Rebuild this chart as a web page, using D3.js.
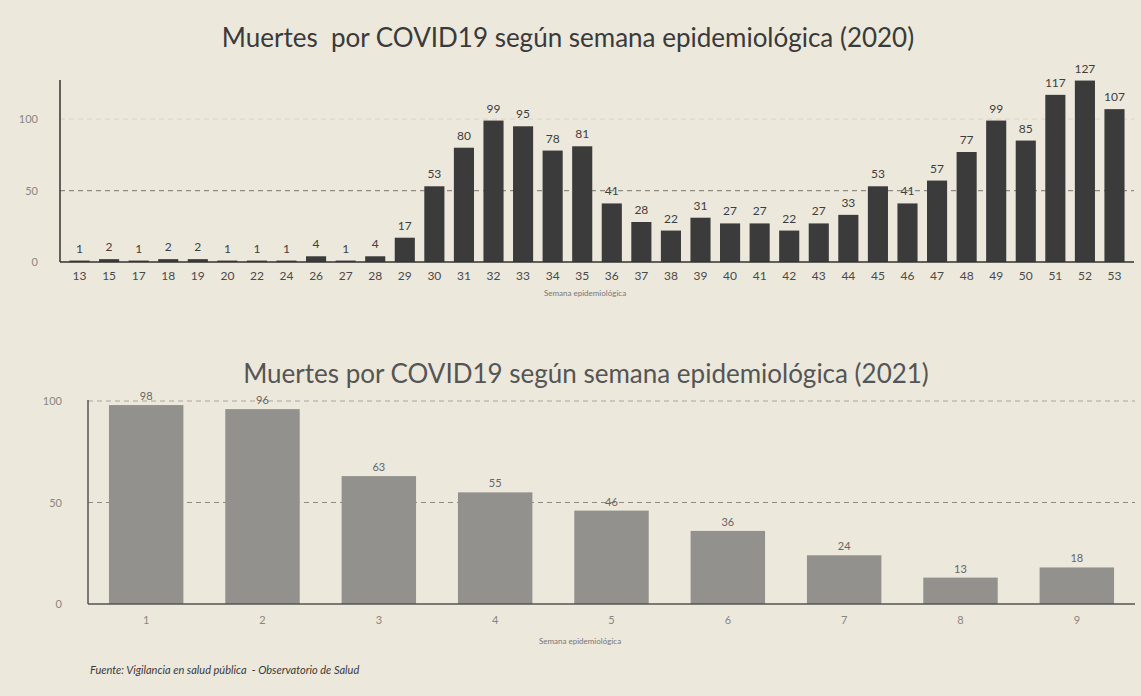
<!DOCTYPE html>
<html>
<head>
<meta charset="utf-8">
<script src="https://cdn.jsdelivr.net/npm/d3@7"></script>
<style>
  html, body { margin: 0; padding: 0; background: #ece8dc; }
  svg { display: block; }
</style>
</head>
<body>
<svg id="chart" width="1141" height="696"></svg>
<script>
// ---- Data ----
const weeks2020 = ["13","15","17","18","19","20","22","24","26","27","28","29","30","31","32","33","34","35","36","37","38","39","40","41","42","43","44","45","46","47","48","49","50","51","52","53"];
const deaths2020 = [1,2,1,2,2,1,1,1,4,1,4,17,53,80,99,95,78,81,41,28,22,31,27,27,22,27,33,53,41,57,77,99,85,117,127,107];
const weeks2021 = ["1","2","3","4","5","6","7","8","9"];
const deaths2021 = [98,96,63,55,46,36,24,13,18];
const yTicks = [0, 50, 100];
const title2020 = "Muertes  por COVID19 según semana epidemiológica (2020)";
const title2021 = "Muertes por COVID19 según semana epidemiológica (2021)";
const xTitle = "Semana epidemiológica";
const source = "Fuente: Vigilancia en salud pública  - Observatorio de Salud";

const svg = d3.select("#chart");
const W = 1141, H = 696;
const font = "Lato, 'Open Sans', sans-serif";

svg.append("rect").attr("width", W).attr("height", H).attr("fill", "#ece8dc");

function drawChart(cfg) {
  const g = svg.append("g");
  const x = d3.scaleBand().domain(cfg.cats).range([cfg.x0, cfg.x1])
    .paddingInner(cfg.pi).paddingOuter(cfg.po);
  const y = d3.scaleLinear().domain(cfg.yDomain).range([cfg.base, cfg.top]);

  // title
  g.append("text").attr("x", cfg.titleX).attr("y", cfg.titleY)
    .attr("text-anchor", "middle").attr("font-family", font)
    .style("white-space", "pre")
    .attr("font-size", cfg.titleSize).attr("fill", cfg.titleColor).text(cfg.title);

  // gridlines
  g.selectAll(".grid").data(cfg.grid).enter().append("line")
    .attr("x1", cfg.x0).attr("x2", cfg.x1)
    .attr("y1", d => y(d.v)).attr("y2", d => y(d.v))
    .attr("stroke", d => d.c).attr("stroke-width", 1.2)
    .attr("stroke-dasharray", "5,4");

  // bars
  g.selectAll(".bar").data(cfg.vals).enter().append("rect")
    .attr("x", (d, i) => x(cfg.cats[i]))
    .attr("y", d => y(d))
    .attr("width", x.bandwidth())
    .attr("height", d => y(0) - y(d))
    .attr("fill", cfg.barColor);

  // value labels
  g.selectAll(".lbl").data(cfg.vals).enter().append("text")
    .attr("x", (d, i) => x(cfg.cats[i]) + x.bandwidth() / 2)
    .attr("y", d => y(d) - cfg.lblGap)
    .attr("text-anchor", "middle").attr("font-family", font)
    .attr("font-size", cfg.lblSize).attr("fill", cfg.lblColor)
    .text(d => d);

  // y axis
  const ya = d3.axisLeft(y).tickValues(yTicks).tickSize(0).tickPadding(cfg.yPad);
  const yg = g.append("g").attr("transform", `translate(${cfg.x0},0)`).call(ya);
  yg.select(".domain").remove();
  yg.selectAll("text").attr("font-family", font).attr("font-size", 11).attr("fill", "#8a8680");
  g.append("line").attr("x1", cfg.x0).attr("x2", cfg.x0)
    .attr("y1", cfg.axisTop).attr("y2", y(0))
    .attr("stroke", cfg.axisColor).attr("stroke-width", 1.5);

  // x axis
  const xa = d3.axisBottom(x).tickSize(0).tickPadding(cfg.xPad);
  const xg = g.append("g").attr("transform", `translate(0,${y(0)})`).call(xa);
  xg.select(".domain").attr("stroke", cfg.axisColor).attr("stroke-width", 1.5)
    .attr("d", `M${cfg.x0},0H${cfg.x1}`);
  xg.selectAll("text").attr("font-family", font).attr("font-size", cfg.xSize).attr("fill", cfg.xColor);

  // x title
  g.append("text").attr("x", cfg.xTitleX).attr("y", y(0) + cfg.xTitleDy)
    .attr("text-anchor", "middle").attr("font-family", font)
    .attr("font-size", 8).attr("fill", "#777").text(xTitle);
}

drawChart({
  cats: weeks2020, vals: deaths2020, title: title2020,
  titleX: 568, titleY: 47, titleSize: 26, titleColor: "#3a3a3a",
  x0: 60, x1: 1134, pi: 0.32, po: 0.32,
  yDomain: [0, 140], base: 262, top: 62, axisTop: 80,
  grid: [{v: 50, c: "#8f8b82"}, {v: 100, c: "#dcd7cb"}],
  barColor: "#3b3b3b", lblGap: 8, lblSize: 12, lblColor: "#3e3e3e",
  yPad: 22, axisColor: "#333",
  xPad: 9, xSize: 12, xColor: "#4a4a4a",
  xTitleX: 585, xTitleDy: 34
});

drawChart({
  cats: weeks2021, vals: deaths2021, title: title2021,
  titleX: 586, titleY: 383, titleSize: 26, titleColor: "#555",
  x0: 88, x1: 1135, pi: 0.36, po: 0.18,
  yDomain: [0, 100], base: 604, top: 401, axisTop: 400,
  grid: [{v: 50, c: "#8f8b82"}, {v: 100, c: "#a9a59c"}],
  barColor: "#93918d", lblGap: 5, lblSize: 11, lblColor: "#666",
  yPad: 26, axisColor: "#555",
  xPad: 12, xSize: 11, xColor: "#8a8680",
  xTitleX: 580, xTitleDy: 40
});

// source note
svg.append("text").attr("x", 90).attr("y", 674)
  .attr("font-family", font).attr("font-style", "italic")
  .style("white-space", "pre")
  .attr("font-size", 11).attr("fill", "#3a3a3a").text(source);
</script>
</body>
</html>
